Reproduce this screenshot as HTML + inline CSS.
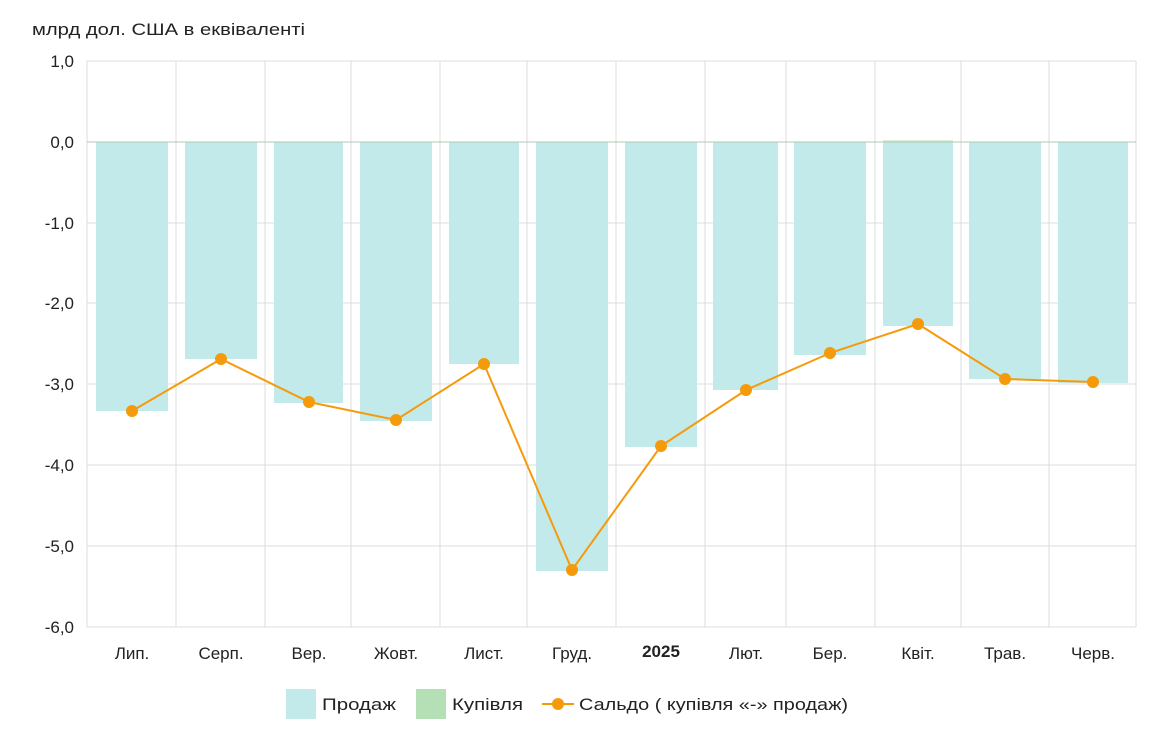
<!DOCTYPE html>
<html><head><meta charset="utf-8"><style>
body{margin:0;background:#fff;}
svg text{font-family:"Liberation Sans",sans-serif;fill:#222;}
</style></head><body>
<svg width="1161" height="750" xmlns="http://www.w3.org/2000/svg">
<text x="32" y="35" font-size="17" textLength="273" lengthAdjust="spacingAndGlyphs">млрд дол. США в еквіваленті</text>
<g stroke="#dcdcdc" stroke-width="1">
<line x1="87" y1="61" x2="1136" y2="61"/>
<line x1="87" y1="223" x2="1136" y2="223"/>
<line x1="87" y1="303" x2="1136" y2="303"/>
<line x1="87" y1="384" x2="1136" y2="384"/>
<line x1="87" y1="465" x2="1136" y2="465"/>
<line x1="87" y1="546" x2="1136" y2="546"/>
<line x1="87" y1="627" x2="1136" y2="627"/>
<line x1="87" y1="61" x2="87" y2="627"/>
<line x1="176" y1="61" x2="176" y2="627"/>
<line x1="265" y1="61" x2="265" y2="627"/>
<line x1="351" y1="61" x2="351" y2="627"/>
<line x1="440" y1="61" x2="440" y2="627"/>
<line x1="527" y1="61" x2="527" y2="627"/>
<line x1="616" y1="61" x2="616" y2="627"/>
<line x1="705" y1="61" x2="705" y2="627"/>
<line x1="786" y1="61" x2="786" y2="627"/>
<line x1="875" y1="61" x2="875" y2="627"/>
<line x1="961" y1="61" x2="961" y2="627"/>
<line x1="1049" y1="61" x2="1049" y2="627"/>
<line x1="1136" y1="61" x2="1136" y2="627"/>
</g>
<g fill="#c3eaea">
<rect x="96" y="142" width="72" height="269"/>
<rect x="185" y="142" width="72" height="217"/>
<rect x="274" y="142" width="69" height="261"/>
<rect x="360" y="142" width="72" height="279"/>
<rect x="449" y="142" width="70" height="222"/>
<rect x="536" y="142" width="72" height="429"/>
<rect x="625" y="142" width="72" height="305"/>
<rect x="713" y="142" width="65" height="248"/>
<rect x="794" y="142" width="72" height="213"/>
<rect x="883" y="142" width="70" height="184"/>
<rect x="969" y="142" width="72" height="237"/>
<rect x="1058" y="142" width="70" height="241"/>
</g>
<line x1="87" y1="142" x2="1136" y2="142" stroke="#b0c8b0" stroke-width="1"/>
<rect x="883" y="140.5" width="70" height="1.5" fill="#b5dfb5"/>
<polyline fill="none" stroke="#f59b0b" stroke-width="2" points="132,411 221,359 309,402 396,420 484,364 572,570 661,446 746,390 830,353 918,324 1005,379 1093,382"/>
<g fill="#f59b0b">
<circle cx="132" cy="411" r="6"/><circle cx="221" cy="359" r="6"/><circle cx="309" cy="402" r="6"/><circle cx="396" cy="420" r="6"/><circle cx="484" cy="364" r="6"/><circle cx="572" cy="570" r="6"/><circle cx="661" cy="446" r="6"/><circle cx="746" cy="390" r="6"/><circle cx="830" cy="353" r="6"/><circle cx="918" cy="324" r="6"/><circle cx="1005" cy="379" r="6"/><circle cx="1093" cy="382" r="6"/>
</g>
<g font-size="17" text-anchor="end">
<text x="74" y="67">1,0</text>
<text x="74" y="148">0,0</text>
<text x="74" y="229">-1,0</text>
<text x="74" y="309">-2,0</text>
<text x="74" y="390">-3,0</text>
<text x="74" y="471">-4,0</text>
<text x="74" y="552">-5,0</text>
<text x="74" y="633">-6,0</text>
</g>
<g font-size="17" text-anchor="middle">
<text x="132" y="659">Лип.</text>
<text x="221" y="659">Серп.</text>
<text x="309" y="659">Вер.</text>
<text x="396" y="659">Жовт.</text>
<text x="484" y="659">Лист.</text>
<text x="572" y="659">Груд.</text>
<text x="661" y="657" font-weight="bold">2025</text>
<text x="746" y="659">Лют.</text>
<text x="830" y="659">Бер.</text>
<text x="918" y="659">Квіт.</text>
<text x="1005" y="659">Трав.</text>
<text x="1093" y="659">Черв.</text>
</g>
<rect x="286" y="689" width="30" height="30" fill="#c3eaea"/>
<text x="322" y="710" font-size="17" textLength="74" lengthAdjust="spacingAndGlyphs">Продаж</text>
<rect x="416" y="689" width="30" height="30" fill="#b5dfb5"/>
<text x="452" y="710" font-size="17" textLength="71" lengthAdjust="spacingAndGlyphs">Купівля</text>
<line x1="542" y1="704" x2="574" y2="704" stroke="#f59b0b" stroke-width="2"/>
<circle cx="558" cy="704" r="6" fill="#f59b0b"/>
<text x="579" y="710" font-size="17" textLength="269" lengthAdjust="spacingAndGlyphs">Сальдо ( купівля «-» продаж)</text>
</svg>
</body></html>
